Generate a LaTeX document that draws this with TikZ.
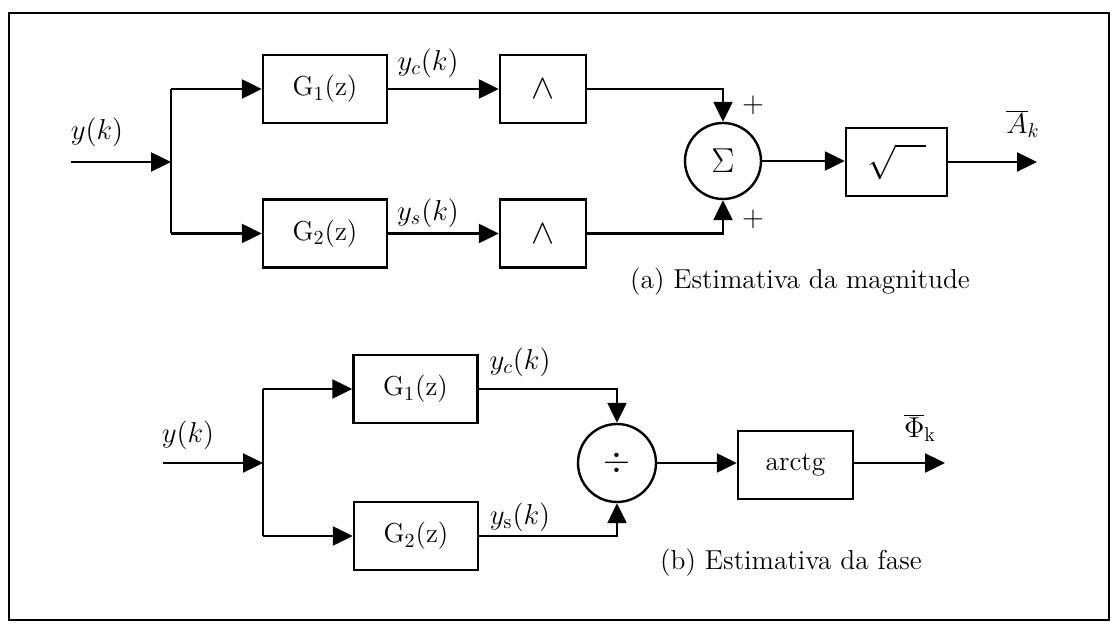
\documentclass[tikz,border=0pt]{standalone}
\usetikzlibrary{arrows.meta}
\begin{document}
\begin{tikzpicture}[x=0.5pt,y=-0.5pt,
  font=\fontsize{13.7}{16}\selectfont,
  line width=1.2pt,
  blk/.style={draw, line width=1.2pt, minimum height=34pt, inner sep=0pt},
  circ/.style={draw, circle, line width=1.2pt, inner sep=0pt},
  arr/.style={-{Triangle[length=10pt,width=9.5pt]}},
  lbl/.style={inner sep=0pt}]
\useasboundingbox (0,0) rectangle (1112,624);
\draw[line width=1.4pt] (9,13) rectangle (1109,620);

% ---------- (a) magnitude ----------
\node[blk, minimum width=62pt] (g1a) at (325,89) {G$_1$(z)};
\node[blk, minimum width=62pt] (g2a) at (325,233.5) {G$_2$(z)};
\node[blk, minimum width=43pt] (w1) at (543,89) {\fontsize{18}{18}\selectfont$\wedge$};
\node[blk, minimum width=43pt] (w2) at (543,233.5) {\fontsize{18}{18}\selectfont$\wedge$};
\node[circ, minimum size=38pt] (sum) at (723,161) {\fontsize{16}{16}\selectfont$\Sigma$};
\node[blk, minimum width=50.5pt] (sq) at (896.5,162) {\fontsize{18}{18}\selectfont$\sqrt{\hspace{15pt}\vphantom{A}}$};
\coordinate (ina) at (71,162);
\coordinate (ja) at (171,162);
\coordinate (outa) at (1037,162);

\draw[arr] (ina) -- (ja);
\draw (ja |- g1a) -- (ja |- g2a);
\draw[arr] (ja |- g1a) -- (g1a.west);
\draw[arr] (ja |- g2a) -- (g2a.west);
\draw[arr] (g1a) -- (w1);
\draw[arr] (g2a) -- (w2);
\draw[arr] (w1.east) -| (sum.north);
\draw[arr] (w2.east) -| (sum.south);
\draw[arr] (sum.east) -- (sum.east -| sq.west);
\draw[arr] (sq.east |- outa) -- (outa);

\node[lbl] (lya) at (97,132) {$y(k)$};
\node[lbl] (lyca) at (428,63) {$y_c(k)$};
\node[lbl] (lysa) at (428,213) {$y_s(k)$};
\node[lbl] (p1) at (753,105) {$+$};
\node[lbl] (p2) at (753,219) {$+$};
\node[lbl] (lA) at (1023,124) {$\overline{A}_k$};
\node[lbl] (capa) at (800,282) {(a) Estimativa da magnitude};

% ---------- (b) phase ----------
\node[blk, minimum width=62pt] (g1b) at (415.5,389) {G$_1$(z)};
\node[blk, minimum width=62pt] (g2b) at (416,536) {G$_2$(z)};
\node[circ, minimum size=39pt] (dv) at (617,463) {\fontsize{16}{16}\selectfont$\div$};
\node[blk, minimum width=57.5pt] (atg) at (795.5,465) {arctg};
\coordinate (inb) at (163,463);
\coordinate (jb) at (263,463);
\coordinate (outb) at (945,463);

\draw[arr] (inb) -- (jb);
\draw (jb |- g1b) -- (jb |- g2b);
\draw[arr] (jb |- g1b) -- (g1b.west);
\draw[arr] (jb |- g2b) -- (g2b.west);
\draw[arr] (g1b.east) -| (dv.north);
\draw[arr] (g2b.east) -| (dv.south);
\draw[arr] (dv.east) -- (dv.east -| atg.west);
\draw[arr] (atg.east |- outb) -- (outb);

\node[lbl] (lyb) at (188,435) {$y(k)$};
\node[lbl] (lycb) at (520,362) {$y_c(k)$};
\node[lbl] (lysb) at (520,517) {$y_{\mathrm{s}}(k)$};
\node[lbl] (lP) at (920,428) {$\overline{\Phi}_{\mathrm{k}}$};
\node[lbl] (capb) at (791,563) {(b) Estimativa da fase};
\end{tikzpicture}
\end{document}
